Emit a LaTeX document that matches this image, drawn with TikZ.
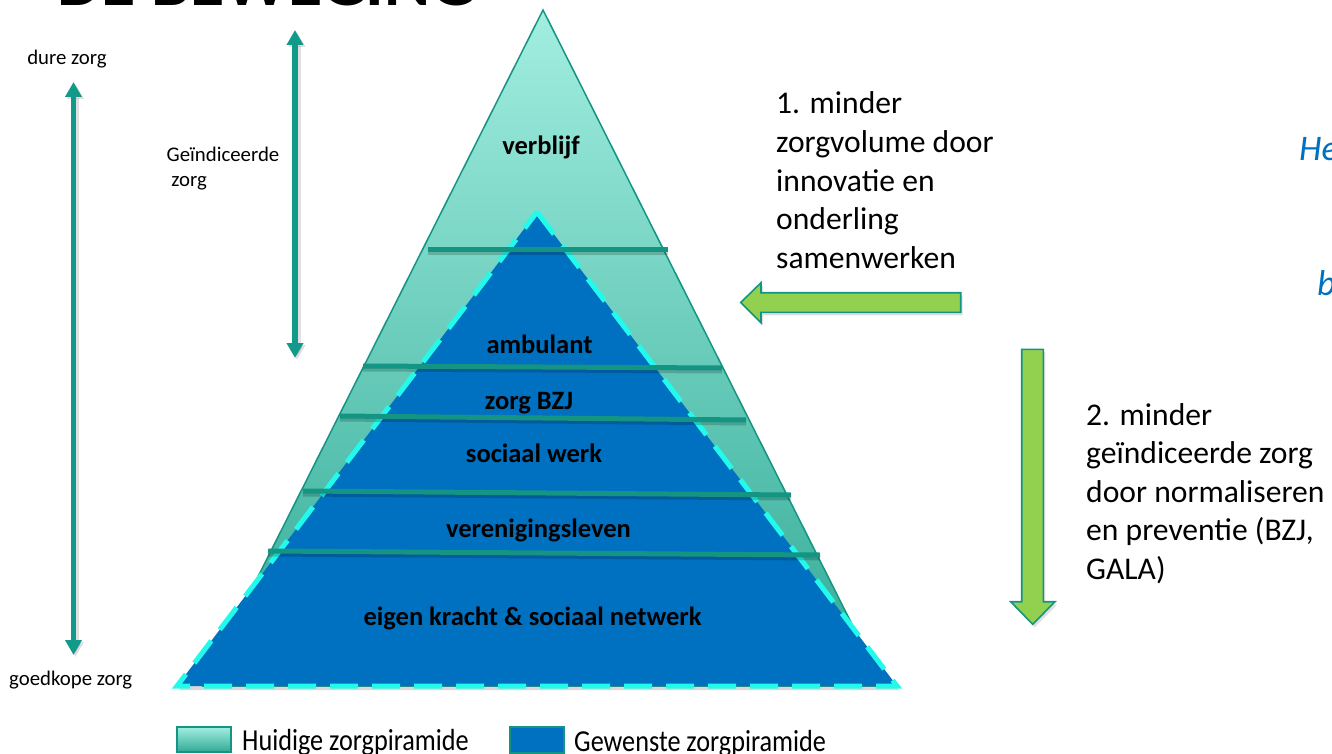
\documentclass[tikz,border=0pt]{standalone}
\usepackage{fontspec}
\setmainfont{Carlito}
\usetikzlibrary{arrows.meta,shadows}
\definecolor{tealline}{RGB}{20,148,130}
\definecolor{tealarrow}{RGB}{17,154,138}
\definecolor{tealtop}{RGB}{162,238,224}
\definecolor{tealbot}{RGB}{50,170,150}
\definecolor{pyrblue}{RGB}{0,112,192}
\definecolor{dashcyan}{RGB}{34,250,236}
\definecolor{arrowgreen}{RGB}{146,208,80}
\definecolor{italblue}{RGB}{0,112,192}
\tikzset{
  smalllabel/.style={font=\fontsize{20.8}{25}\selectfont, inner sep=0pt},
  pyrlabel/.style={font=\fontsize{26.5}{31}\selectfont\bfseries, inner sep=0pt, anchor=base},
  bigtext/.style={font=\fontsize{31.6}{38.6}\selectfont, inner sep=0pt, anchor=base west},
  legendtext/.style={font=\fontsize{30.5}{36}\selectfont, inner sep=0pt, anchor=base west},
  cuttext/.style={font=\fontsize{36}{43}\selectfont\itshape, text=italblue, inner sep=0pt, anchor=base west},
  scalearrow/.style={draw=tealarrow, line width=5.5pt,
    {Triangle[width=16pt,length=15pt]}-{Triangle[width=16pt,length=15pt]},
    preaction={draw=black, opacity=0.12, line width=7pt, transform canvas={shift={(2pt,-2pt)}}}},
  bandline/.style={draw=tealline, line width=5pt,
    preaction={draw=black, opacity=0.18, line width=5pt, transform canvas={yshift=-3pt}}},
  blockarrow/.style={fill=arrowgreen, draw=tealline, line width=1.6pt, line join=miter,
    drop shadow={shadow xshift=2pt, shadow yshift=-3pt, opacity=0.25}},
  legendbox/.style={draw=tealline, line width=2pt}
}
\begin{document}
\begin{tikzpicture}[x=1pt,y=-1pt]
\useasboundingbox (0,0) rectangle (1332,754);
\clip (0,0) rectangle (1332,754);

% title (cut at top)
\node[font=\fontsize{70}{80}\selectfont\bfseries, inner sep=0pt, anchor=base west] (title) at (57,5.5) {DE BEWEGING};

% current (teal) pyramid
\shade[top color=tealtop, bottom color=tealbot, draw=tealline, line width=1.5pt, line join=miter]
  (543,10) -- (883,686) -- (203,686) -- cycle;

% desired (blue) pyramid
\fill[pyrblue, drop shadow={shadow xshift=2pt, shadow yshift=-4pt, opacity=0.3}]
  (537,212) -- (897,686) -- (177,686) -- cycle;
\draw[dashcyan, line width=5pt, dash pattern=on 28pt off 14pt, line join=miter]
  (537,212) -- (897,686) -- (177,686) -- cycle;

% band lines
\draw[bandline] (428,249) -- (668,249);
\draw[bandline] (363,366) -- (722,368);
\draw[bandline] (340,416) -- (746,420);
\draw[bandline] (303,491) -- (791,495);
\draw[bandline] (268,551) -- (820,555);

% pyramid labels
\node[pyrlabel] (verblijf) at (541,155) {verblijf};
\node[pyrlabel] (ambulant) at (539.5,353) {ambulant};
\node[pyrlabel] (zorgbzj) at (529,409) {zorg BZJ};
\node[pyrlabel] (sociaal) at (534,462) {sociaal werk};
\node[pyrlabel] (vereniging) at (538.5,537) {verenigingsleven};
\node[pyrlabel] (eigen) at (532.5,625.5) {eigen kracht \& sociaal netwerk};

% left scale
\node[smalllabel, anchor=base] (dure) at (67,65) {dure zorg};
\node[smalllabel, anchor=base west] (goedkoop) at (9,685) {goedkope zorg};
\coordinate (scaleTop) at (73.5,82);
\coordinate (scaleBot) at (73.5,655);
\draw[scalearrow] (scaleBot) -- (scaleTop);

\node[smalllabel, anchor=base west] (geind) at (166.5,161.7)
  {\begin{tabular}[t]{@{}l@{}}Geïndiceerde\\\ zorg\end{tabular}};
\coordinate (indTop) at (295,30);
\coordinate (indBot) at (295,358);
\draw[scalearrow] (indBot) -- (indTop);

% right texts
\node[bigtext] (txt1) at (776,114)
  {\begin{tabular}[t]{@{}l@{}}1. minder\\zorgvolume door\\innovatie en\\onderling\\samenwerken\end{tabular}};
\node[bigtext] (txt2) at (1086,425)
  {\begin{tabular}[t]{@{}l@{}}2. minder\\geïndiceerde zorg\\door normaliseren\\en preventie (BZJ,\\GALA)\end{tabular}};

% green block arrows
\filldraw[blockarrow] (960.7,292.7) -- (761,292.7) -- (761,282.7) -- (740.7,302.5)
  -- (761,322.7) -- (761,312.3) -- (960.7,312.3) -- cycle;
\filldraw[blockarrow] (1021.7,349.3) -- (1043.3,349.3) -- (1043.3,601.7) -- (1055,601.7)
  -- (1032.7,624.3) -- (1010.7,601.7) -- (1021.7,601.7) -- cycle;

% cut-off italic text at right edge
\node[cuttext] (he) at (1299,161) {He};
\node[cuttext] (bee) at (1317,295) {b};

% legend
\shade[top color=tealtop, bottom color=tealbot, legendbox] (176.7,727) rectangle (231,752);
\node[legendtext] (leg1) at (242,750) {\scalebox{0.86}[1]{Huidige zorgpiramide}};
\fill[pyrblue] (510,727.3) rectangle (564.4,752.7);
\draw[legendbox] (510,727.3) rectangle (564.4,752.7);
\node[legendtext] (leg2) at (574,751) {\scalebox{0.86}[1]{Gewenste zorgpiramide}};
\end{tikzpicture}
\end{document}
